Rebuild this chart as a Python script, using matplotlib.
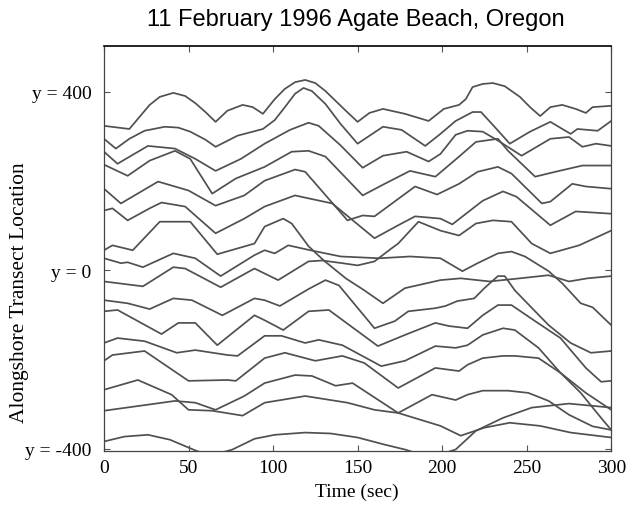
import numpy as np
import matplotlib.pyplot as plt

# time (sec) and alongshore location for each traced run-up line, top to bottom
c1_t = [0, 15, 21, 27, 33, 41, 48, 54, 60, 66, 73, 82, 88, 94, 101, 107, 113, 119, 125, 131, 137, 143, 150, 157, 165, 178, 192, 201, 210, 214, 218, 224, 230, 237, 246, 252, 258, 264, 271, 279, 285, 289, 300]
c1_y = [324, 317, 344, 371, 389, 398, 391, 375, 355, 333, 358, 371, 366, 351, 384, 407, 422, 427, 420, 402, 380, 358, 333, 353, 362, 351, 335, 362, 371, 384, 411, 418, 420, 413, 389, 366, 346, 366, 371, 362, 353, 366, 369]

c2_t = [0, 7, 15, 24, 36, 44, 51, 60, 66, 79, 94, 101, 107, 113, 118, 123, 131, 140, 150, 165, 176, 190, 199, 208, 218, 223, 231, 240, 252, 264, 276, 280, 292, 300]
c2_y = [295, 273, 295, 313, 322, 320, 311, 293, 277, 302, 317, 337, 366, 396, 409, 402, 373, 328, 284, 322, 315, 279, 306, 335, 355, 355, 322, 284, 311, 333, 306, 317, 313, 335]

c3_t = [0, 8, 26, 42, 54, 66, 81, 95, 110, 121, 127, 140, 153, 165, 179, 192, 199, 208, 215, 224, 233, 247, 264, 275, 283, 291, 300]
c3_y = [266, 239, 279, 273, 250, 223, 250, 284, 315, 331, 324, 280, 230, 257, 266, 244, 261, 304, 313, 311, 291, 257, 295, 299, 277, 284, 279]

c4_t = [0, 14, 27, 42, 51, 64, 78, 95, 111, 121, 131, 153, 166, 181, 196, 210, 220, 233, 239, 255, 267, 283, 300]
c4_y = [237, 212, 246, 268, 250, 172, 206, 232, 266, 268, 255, 168, 194, 223, 210, 255, 288, 295, 268, 210, 221, 235, 235]

c5_t = [0, 10, 32, 50, 66, 83, 95, 113, 119, 144, 153, 160, 184, 197, 210, 221, 233, 241, 259, 264, 277, 285, 300]
c5_y = [183, 150, 199, 179, 145, 168, 201, 226, 221, 112, 123, 121, 188, 170, 194, 221, 232, 217, 150, 154, 194, 188, 183]

c6_t = [0, 5, 14, 27, 34, 48, 66, 83, 95, 113, 119, 135, 160, 174, 184, 199, 206, 224, 236, 244, 264, 279, 300]
c6_y = [134, 139, 112, 139, 152, 143, 83, 116, 143, 168, 163, 150, 72, 101, 121, 116, 103, 156, 177, 165, 101, 132, 127]

c7_t = [0, 5, 17, 33, 51, 67, 89, 95, 106, 111, 121, 130, 143, 154, 165, 178, 199, 211, 228, 246, 263, 275, 286, 300]
c7_y = [45, 56, 45, 109, 109, 36, 60, 98, 116, 105, 54, 22, -18, -45, -74, -40, -22, -18, -25, -18, -11, -25, -18, -13]

c8_t = [0, 10, 14, 23, 41, 54, 69, 89, 95, 101, 109, 122, 140, 163, 181, 199, 212, 221, 233, 241, 249, 263, 271, 282, 289, 300]
c8_y = [27, 16, 18, 7, 38, 27, -13, 34, 45, 38, 56, 45, 31, 27, 31, 27, -2, 16, 38, 42, 31, -2, -29, -74, -83, -123]

c9_t = [0, 23, 41, 48, 69, 89, 103, 121, 129, 141, 150, 160, 170, 174, 186, 199, 210, 220, 230, 241, 253, 264, 281, 300]
c9_y = [-25, -36, 7, 4, -38, 4, -22, 20, 22, 16, 11, 20, 49, 60, 109, 89, 78, 105, 112, 109, 60, 38, 56, 89]

c10_t = [0, 14, 27, 41, 52, 70, 89, 95, 104, 121, 131, 139, 160, 172, 180, 196, 202, 209, 219, 225, 233, 237, 243, 255, 263, 276, 288, 300]
c10_y = [-67, -74, -87, -63, -67, -101, -63, -67, -80, -42, -22, -34, -130, -114, -92, -85, -80, -69, -63, -40, -13, -13, -45, -92, -123, -163, -185, -181]

c11_t = [0, 8, 34, 44, 54, 67, 89, 95, 106, 121, 133, 162, 178, 196, 204, 215, 224, 233, 241, 255, 270, 285, 294, 300]
c11_y = [-92, -89, -143, -118, -118, -168, -101, -112, -134, -92, -89, -170, -145, -118, -125, -130, -101, -78, -78, -114, -152, -219, -250, -248]

c12_t = [0, 8, 24, 43, 54, 73, 79, 95, 105, 119, 127, 141, 164, 178, 196, 208, 215, 224, 236, 243, 257, 270, 285, 300]
c12_y = [-163, -152, -159, -185, -179, -190, -192, -147, -147, -163, -156, -168, -215, -203, -170, -174, -168, -145, -130, -134, -174, -230, -275, -313]

c13_t = [0, 5, 24, 50, 73, 78, 95, 107, 125, 141, 154, 174, 196, 210, 215, 224, 236, 243, 257, 270, 282, 294, 300]
c13_y = [-203, -190, -181, -248, -246, -248, -197, -185, -203, -192, -208, -264, -219, -226, -212, -197, -192, -192, -197, -230, -275, -331, -358]

c14_t = [0, 42, 54, 66, 83, 95, 113, 123, 130, 137, 147, 174, 194, 208, 215, 224, 239, 251, 263, 275, 289, 300]
c14_y = [-315, -293, -297, -313, -282, -253, -235, -237, -248, -259, -253, -320, -279, -291, -279, -270, -270, -275, -293, -324, -350, -358]

c15_t = [0, 20, 40, 50, 64, 82, 95, 119, 144, 160, 174, 199, 211, 225, 240, 258, 276, 300]
c15_y = [-268, -246, -279, -313, -315, -326, -297, -282, -297, -313, -320, -349, -371, -353, -342, -349, -364, -375]

c16_t = [0, 12, 26, 39, 54, 63, 76, 89, 101, 119, 134, 150, 166, 178, 193, 208, 220, 236, 253, 275, 300]
c16_y = [-384, -373, -369, -380, -404, -416, -402, -378, -369, -364, -366, -375, -391, -402, -420, -402, -360, -331, -308, -299, -308]

lines = [(c1_t, c1_y), (c2_t, c2_y), (c3_t, c3_y), (c4_t, c4_y), (c5_t, c5_y),
         (c6_t, c6_y), (c7_t, c7_y), (c8_t, c8_y), (c9_t, c9_y), (c10_t, c10_y),
         (c11_t, c11_y), (c12_t, c12_y), (c13_t, c13_y), (c14_t, c14_y),
         (c15_t, c15_y), (c16_t, c16_y)]

xticks = [0, 50, 100, 150, 200, 250, 300]
yticks = [-400, 0, 400]
ytick_labels = ['y = -400', 'y = 0', 'y = 400']

plt.rcParams['axes.unicode_minus'] = False

fig = plt.figure(figsize=(6.38, 5.06), dpi=100, facecolor='w')
ax = fig.add_axes([0.163, 0.107, 0.795, 0.80])

for t, y in lines:
    ax.plot(t, y, color='#505050', lw=1.25, solid_joinstyle='round')

ax.set_xlim(0, 300)
ax.set_ylim(-405, 503)
ax.set_xticks(xticks)
ax.set_yticks(yticks)
ax.set_yticklabels(ytick_labels)
ax.tick_params(direction='in', length=4, width=0.8, color='#555555',
               top=True, right=True, labelsize=14, pad=6)
ax.tick_params(axis='y', pad=9)
for lab in ax.get_xticklabels() + ax.get_yticklabels():
    lab.set_family('Liberation Serif')
for side in ['left', 'right', 'bottom']:
    ax.spines[side].set_color('#444444')
    ax.spines[side].set_linewidth(0.9)
ax.spines['top'].set_color('black')
ax.spines['top'].set_linewidth(1.2)

fig.text(356 / 638, 1 - 20 / 506, '11 February 1996 Agate Beach, Oregon',
         ha='center', va='center', fontsize=17, family='Liberation Sans')
fig.text(357 / 638, 1 - 492 / 506, 'Time (sec)', ha='center', va='center',
         fontsize=14, family='Liberation Serif')
fig.text(20 / 638, 1 - 293 / 506, 'Alongshore Transect Location', ha='center',
         va='center', rotation=90, fontsize=15.5, family='Liberation Serif')

fig.savefig('out.png', dpi=100)
